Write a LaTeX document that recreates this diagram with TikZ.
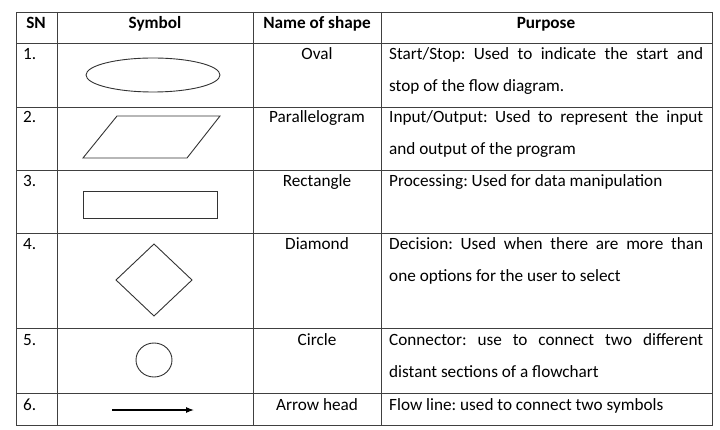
\documentclass[tikz,border=0pt]{standalone}
\usepackage{fontspec}
\setmainfont{Carlito}
\usetikzlibrary{arrows.meta}
\frenchspacing
\begin{document}
\begin{tikzpicture}[x=1pt,y=-1pt,
  grid/.style={line width=0.9pt,draw=black!75},
  shp/.style={line width=0.9pt,draw=black!80},
  txt/.style={anchor=base west,inner sep=0pt,font=\fontsize{17.2}{20}\selectfont},
  ctr/.style={anchor=base,inner sep=0pt,font=\fontsize{17.2}{20}\selectfont},
  hdr/.style={anchor=base,inner sep=0pt,font=\fontsize{17.2}{20}\selectfont\bfseries}]
\useasboundingbox (0,0) rectangle (720,430);
% grid
\draw[grid] (16,12) rectangle (712,425);
\foreach \x in {57,253,381} \draw[grid] (\x,12) -- (\x,425);
\foreach \y in {43,107,170,233,328,393} \draw[grid] (16,\y) -- (712,\y);
% header
\node[hdr] (h1) at (36,29) {SN};
\node[hdr] (h2) at (155,29) {Symbol};
\node[hdr] (h3) at (317,29) {Name of shape};
\node[hdr] (h4) at (546,29) {Purpose};
% SN
\foreach \n/\y in {1/60,2/123,3/187,4/250,5/345,6/410}
  \node[txt] (sn\n) at (23,\y) {\n.};
% names
\node[ctr] (n1) at (317,60) {Oval};
\node[ctr] (n2) at (317,123) {Parallelogram};
\node[ctr] (n3) at (317,187) {Rectangle};
\node[ctr] (n4) at (317,250) {Diamond};
\node[ctr] (n5) at (317,345) {Circle};
\node[ctr] (n6) at (317,410) {Arrow head};
% purposes
\node[txt] (p1a) at (389,60) {\makebox[314pt][s]{Start/Stop: Used to indicate the start and}};
\node[txt] (p1b) at (389,92) {stop of the flow diagram.};
\node[txt] (p2a) at (389,123) {\makebox[314pt][s]{Input/Output: Used to represent the input}};
\node[txt] (p2b) at (389,155) {and output of the program};
\node[txt] (p3a) at (389,187) {Processing: Used for data manipulation};
\node[txt] (p4a) at (389,250) {\makebox[314pt][s]{Decision: Used when there are more than}};
\node[txt] (p4b) at (389,282) {one options for the user to select};
\node[txt] (p5a) at (389,345) {\makebox[314pt][s]{Connector: use to connect two different}};
\node[txt] (p5b) at (389,377) {distant sections of a flowchart};
\node[txt] (p6a) at (389,410) {Flow line: used to connect two symbols};
% symbols
\draw[shp] (153,75) ellipse [x radius=67,y radius=17];
\draw[shp] (117,116) -- (220,116) -- (187,158) -- (83,158) -- cycle;
\draw[shp] (83,191) rectangle (217,218);
\draw[shp] (154,244) -- (192,280) -- (154,316) -- (116,280) -- cycle;
\draw[shp] (154,360) ellipse [x radius=18,y radius=17];
\coordinate (a1) at (112,410);
\coordinate (a2) at (194,410);
\draw[line width=1.1pt,-{Latex[length=8pt,width=6pt]}] (a1) -- (a2);
\end{tikzpicture}
\end{document}
